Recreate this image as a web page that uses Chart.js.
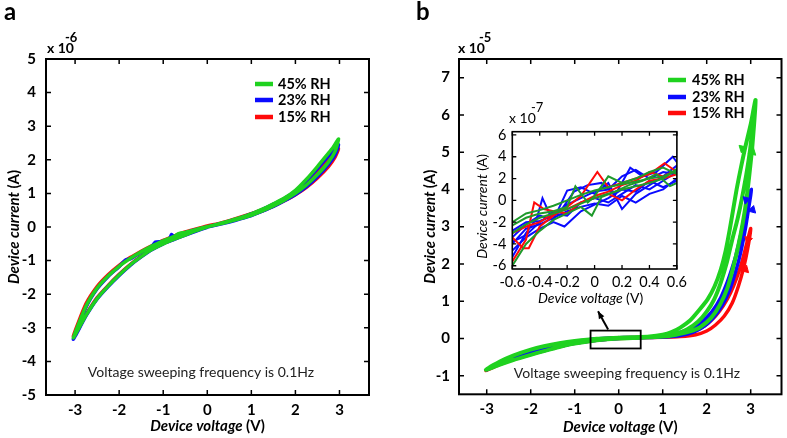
<!DOCTYPE html>
<html><head><meta charset="utf-8">
<script src="https://cdn.jsdelivr.net/npm/chart.js@4.4.1/dist/chart.umd.min.js"></script>
<style>
html,body{margin:0;padding:0;background:#fff;}
#wrap{position:relative;width:787px;height:438px;overflow:hidden;background:#fff;}
canvas{position:absolute;display:block;}
</style></head><body>
<div id="wrap">
<canvas id="ca" width="390" height="438" style="left:0;top:0"></canvas>
<canvas id="cb" width="397" height="438" style="left:390px;top:0"></canvas>
<canvas id="ci" width="230" height="210" style="left:462px;top:98px"></canvas>
</div>
<script>
// ---------- data ----------
const seriesNames = ['45% RH', '23% RH', '15% RH'];
const xTicksMain = [-3, -2, -1, 0, 1, 2, 3];
const yTicksA = [-5, -4, -3, -2, -1, 0, 1, 2, 3, 4, 5];
const yTicksB = [-1, 0, 1, 2, 3, 4, 5, 6, 7];
const xTicksInset = [-0.6, -0.4, -0.2, 0, 0.2, 0.4, 0.6];
const yTicksInset = [-6, -4, -2, 0, 2, 4, 6];

// panel a (current x1e-6 A vs voltage V)
const aGreen = [[0,0.01],[0.25,0.08],[0.5,0.16],[0.75,0.25],[1,0.35],[1.25,0.48],[1.5,0.63],[1.75,0.8],[2,1.0],[2.25,1.25],[2.5,1.56],[2.75,1.93],[2.9,2.25],[2.98,2.62],
[2.85,2.36],[2.75,2.2],[2.5,1.8],[2.25,1.42],[2,1.09],[1.75,0.86],[1.5,0.69],[1.25,0.53],[1,0.39],[0.75,0.28],[0.5,0.18],[0.25,0.09],[0,0.01],
[-0.25,-0.07],[-0.5,-0.16],[-0.65,-0.2],[-0.75,-0.28],[-0.9,-0.36],[-1,-0.41],[-1.25,-0.56],[-1.5,-0.74],[-1.75,-0.94],[-2,-1.17],[-2.25,-1.46],[-2.5,-1.82],[-2.75,-2.35],[-3.04,-3.3],
[-2.75,-2.62],[-2.5,-2.13],[-2.25,-1.76],[-2,-1.43],[-1.75,-1.13],[-1.5,-0.88],[-1.25,-0.66],[-1,-0.5],[-0.75,-0.36],[-0.5,-0.24],[-0.25,-0.11],[0,0]];
const aBlue = [[0,0.0],[0.25,0.07],[0.5,0.15],[0.75,0.24],[1,0.34],[1.25,0.47],[1.5,0.61],[1.75,0.78],[2,0.97],[2.25,1.2],[2.5,1.5],[2.75,1.86],[2.9,2.15],[2.98,2.45],
[2.85,2.25],[2.75,2.12],[2.5,1.74],[2.25,1.38],[2,1.07],[1.75,0.85],[1.5,0.68],[1.25,0.52],[1,0.39],[0.75,0.27],[0.5,0.17],[0.25,0.08],[0,0.0],
[-0.25,-0.08],[-0.5,-0.17],[-0.75,-0.3],[-0.81,-0.22],[-0.86,-0.36],[-1,-0.43],[-1.18,-0.45],[-1.25,-0.57],[-1.5,-0.75],[-1.75,-0.95],[-1.85,-0.98],[-2,-1.18],[-2.25,-1.47],[-2.5,-1.84],[-2.75,-2.38],[-3.04,-3.34],
[-2.75,-2.64],[-2.5,-2.14],[-2.25,-1.77],[-2,-1.44],[-1.75,-1.14],[-1.5,-0.89],[-1.25,-0.67],[-1,-0.5],[-0.75,-0.37],[-0.5,-0.24],[-0.25,-0.12],[0,-0.01]];
const aRed = [[0,0.02],[0.25,0.09],[0.5,0.17],[0.75,0.26],[1,0.36],[1.25,0.48],[1.5,0.62],[1.75,0.78],[2,0.96],[2.25,1.18],[2.5,1.46],[2.75,1.8],[2.9,2.08],[2.98,2.33],
[2.85,2.15],[2.75,2.03],[2.5,1.68],[2.25,1.35],[2,1.05],[1.75,0.84],[1.5,0.67],[1.25,0.52],[1,0.4],[0.75,0.29],[0.5,0.19],[0.25,0.1],[0,0.03],
[-0.25,-0.06],[-0.5,-0.15],[-0.75,-0.27],[-1,-0.4],[-1.25,-0.55],[-1.5,-0.72],[-1.75,-0.91],[-2,-1.14],[-2.25,-1.42],[-2.5,-1.77],[-2.75,-2.28],[-3.04,-3.25],
[-2.75,-2.6],[-2.5,-2.1],[-2.25,-1.74],[-2,-1.41],[-1.75,-1.12],[-1.5,-0.87],[-1.25,-0.65],[-1,-0.49],[-0.75,-0.35],[-0.5,-0.23],[-0.25,-0.1],[0,0.01]];

// panel b (current x1e-5 A vs voltage V)
const bGreen = [[0,0.02],[-0.5,-0.01],[-1,-0.07],[-1.35,-0.13],[-1.7,-0.21],[-2,-0.3],[-2.4,-0.46],[-2.7,-0.62],[-3.02,-0.84],
[-2.7,-0.7],[-2.4,-0.58],[-2,-0.44],[-1.7,-0.34],[-1.35,-0.23],[-1,-0.14],[-0.5,-0.05],[0,0],
[0.5,0.02],[1,0.05],[1.3,0.1],[1.6,0.18],[1.85,0.3],[2.1,0.55],[2.3,0.9],[2.47,1.35],[2.6,1.9],[2.72,2.5],[2.82,3.1],[2.9,3.7],[2.97,4.4],[3.04,5.2],[3.11,6.4],
[3.0,5.75],[2.88,5.15],[2.78,4.6],[2.68,4.0],[2.6,3.45],[2.52,2.9],[2.43,2.35],[2.32,1.85],[2.18,1.4],[2.02,1.05],[1.82,0.75],[1.62,0.48],[1.4,0.29],[1.2,0.17],[1.0,0.1],[0.7,0.05],[0.3,0.03],[0,0.02],
[0.5,0.03],[1,0.06],[1.3,0.12],[1.55,0.24],[1.8,0.45],[2.0,0.72],[2.17,1.05],[2.32,1.5],[2.46,2.05],[2.58,2.65],[2.7,3.2],[2.8,3.75],[2.9,4.4],[2.99,5.1],[3.11,6.4]];
const bBlue = [[0,0.02],[-0.5,-0.01],[-1,-0.08],[-1.35,-0.14],[-1.7,-0.24],[-2,-0.34],[-2.4,-0.5],[-2.7,-0.65],[-3.0,-0.84],
[-2.7,-0.68],[-2.4,-0.55],[-2,-0.42],[-1.7,-0.33],[-1.35,-0.22],[-1,-0.13],[-0.5,-0.05],[0,0],
[0.5,0.02],[1,0.04],[1.4,0.08],[1.7,0.17],[1.95,0.33],[2.15,0.55],[2.35,0.88],[2.52,1.3],[2.66,1.8],[2.78,2.35],[2.88,2.95],[2.96,3.55],[3.02,4.0],
[2.92,3.6],[2.84,3.1],[2.74,2.55],[2.62,2.05],[2.48,1.55],[2.32,1.1],[2.12,0.72],[1.88,0.44],[1.6,0.25],[1.3,0.13],[1.0,0.07],[0.6,0.03],[0,0.02],
[0.8,0.04],[1.3,0.1],[1.65,0.2],[1.9,0.38],[2.1,0.62],[2.3,0.98],[2.46,1.42],[2.6,1.95],[2.72,2.5],[2.83,3.1],[2.92,3.7],[2.98,4.0]];
const bRed = [[0,0.02],[-0.5,-0.02],[-1,-0.09],[-1.35,-0.15],[-1.7,-0.25],[-2,-0.36],[-2.4,-0.52],[-2.7,-0.66],[-3.02,-0.86],
[-2.7,-0.7],[-2.4,-0.57],[-2,-0.43],[-1.7,-0.33],[-1.35,-0.22],[-1,-0.13],[-0.5,-0.05],[0,0],
[0.5,0.02],[1,0.03],[1.4,0.05],[1.75,0.1],[2.0,0.2],[2.2,0.36],[2.4,0.6],[2.58,0.95],[2.72,1.4],[2.84,1.9],[2.93,2.4],[3.0,2.95],
[2.9,2.5],[2.8,2.05],[2.68,1.62],[2.54,1.22],[2.38,0.88],[2.2,0.6],[2.0,0.38],[1.75,0.21],[1.45,0.11],[1.1,0.05],[0.6,0.03],[0,0.02]];
// sweep-direction arrows: [V, I, rotation deg]
const bGreenArrows = [[2.81,5.1,193],[3.04,5.0,13]];
const bBlueArrows = [[2.9,3.72,195],[3.04,3.45,15]];
const bRedArrows = [[2.94,2.65,195],[2.88,1.85,15]];

// inset (current x1e-7 A, voltage -0.6..0.6 V)
const inGreen1 = [[-0.6,-2.0],[-0.5,-1.2],[-0.4,-0.9],[-0.3,-0.5],[-0.2,0.0],[-0.1,0.5],[0,0.9],[0.1,1.2],[0.2,1.5],[0.3,1.7],[0.4,2.0],[0.5,2.2],[0.6,2.7]];
const inGreen2 = [[-0.6,-2.3],[-0.5,-1.6],[-0.4,-1.2],[-0.3,-1.0],[-0.2,-0.6],[-0.14,1.3],[-0.05,-0.2],[0,0.4],[0.1,2.2],[0.2,1.6],[0.3,2.0],[0.4,2.6],[0.5,3.0],[0.6,2.4]];
const inGreen3 = [[-0.6,-6.0],[-0.5,-4.0],[-0.4,-2.8],[-0.3,-1.8],[-0.2,-1.2],[-0.1,-0.6],[-0.02,-1.4],[0.05,0.3],[0.15,0.8],[0.25,1.4],[0.35,1.8],[0.45,2.4],[0.55,1.3],[0.6,1.6]];
const inGreen4 = [[-0.6,-3.0],[-0.5,-2.2],[-0.4,-1.6],[-0.3,-1.2],[-0.2,-0.8],[-0.1,-0.3],[0,0.2],[0.1,0.6],[0.2,1.0],[0.3,1.3],[0.4,1.6],[0.5,2.0],[0.6,2.9]];
const inBlue1 = [[-0.6,-5.2],[-0.5,-3.0],[-0.42,-1.6],[-0.38,0.2],[-0.33,-1.2],[-0.25,-1.0],[-0.15,0.8],[-0.05,1.4],[0.05,1.6],[0.15,0.5],[0.26,3.0],[0.35,2.2],[0.45,2.6],[0.57,4.0],[0.6,3.5]];
const inBlue2 = [[-0.6,-4.0],[-0.5,-2.6],[-0.4,-2.2],[-0.3,-1.6],[-0.2,-1.0],[-0.1,-0.6],[0,-0.3],[0.1,-0.5],[0.2,0.4],[0.3,-0.2],[0.4,0.6],[0.5,1.0],[0.6,2.0]];
const inBlue3 = [[-0.6,-3.4],[-0.5,-2.2],[-0.4,-1.4],[-0.3,-1.8],[-0.2,0.9],[-0.1,1.2],[0,0.6],[0.1,1.6],[0.2,-0.8],[0.3,0.6],[0.4,1.4],[0.5,2.2],[0.6,3.2]];
const inBlue4 = [[-0.6,-4.6],[-0.5,-3.4],[-0.4,-2.6],[-0.3,-2.0],[-0.22,-2.4],[-0.1,-1.0],[0,-0.4],[0.1,0.2],[0.2,1.0],[0.3,0.8],[0.4,1.8],[0.5,1.2],[0.6,1.8]];
const inBlue5 = [[-0.6,-2.8],[-0.5,-2.0],[-0.4,-1.9],[-0.3,-1.4],[-0.2,-0.4],[-0.1,0.2],[0,0.8],[0.1,1.0],[0.2,2.2],[0.3,2.8],[0.4,2.0],[0.5,2.6],[0.6,2.4]];
const inBlue6 = [[-0.6,-3.8],[-0.5,-3.2],[-0.4,-2.0],[-0.3,-1.2],[-0.2,-1.4],[-0.1,-0.2],[0,0.2],[0.1,-0.2],[0.2,0.6],[0.3,1.4],[0.4,1.0],[0.5,1.8],[0.6,2.6]];
const inRed1 = [[-0.6,-3.4],[-0.52,-4.4],[-0.48,-4.4],[-0.4,-2.4],[-0.3,-1.4],[-0.2,-0.6],[-0.1,0.4],[0.02,2.6],[0.1,1.2],[0.2,1.6],[0.3,2.0],[0.4,2.4],[0.51,3.4],[0.6,2.6]];
const inRed2 = [[-0.6,-5.6],[-0.5,-3.6],[-0.44,-0.2],[-0.37,-0.8],[-0.3,-1.0],[-0.2,-1.2],[-0.1,-0.2],[0,0.4],[0.1,0.8],[0.2,1.4],[0.3,1.8],[0.4,2.6],[0.5,2.2],[0.6,2.8]];
const inRed3 = [[-0.6,-3.0],[-0.5,-2.4],[-0.4,-2.0],[-0.3,-1.2],[-0.2,-0.8],[-0.1,-0.2],[0,0.2],[0.1,0.6],[0.2,0.0],[0.3,1.0],[0.4,1.8],[0.5,2.0],[0.6,2.4]];

// ---------- styles ----------
const GREEN = '#1fd21f', BLUE = '#0a0aff', RED = '#ff0a0a', DGREEN = '#1f9a2c';
const seriesColors = [GREEN, BLUE, RED];
const FF = 'Lato, "Open Sans", "DejaVu Sans", sans-serif';
Chart.defaults.font.family = FF;
Chart.defaults.color = '#000';

const pts = arr => arr.map(p => ({x: p[0], y: p[1]}));
const lineDs = (arr, color, w, tension, order) => ({
  data: pts(arr), borderColor: color, backgroundColor: color, borderWidth: w,
  pointRadius: 0, tension: tension, fill: false, order: order
});
const arrowDs = (arr, color, order) => ({
  data: pts(arr), showLine: false, pointStyle: 'triangle', pointRadius: 4.5,
  pointRotation: arr.map(p => p[2]), backgroundColor: color, borderColor: color,
  borderWidth: 1, order: order
});

function drawMixed(ctx, parts, cx, cy, rot) {
  ctx.save();
  ctx.translate(cx, cy);
  if (rot) ctx.rotate(rot);
  let total = 0;
  parts.forEach(p => { ctx.font = p.f; total += ctx.measureText(p.t).width; });
  let x = -total / 2;
  ctx.textBaseline = 'middle'; ctx.textAlign = 'left'; ctx.fillStyle = '#000';
  parts.forEach(p => { ctx.font = p.f; ctx.fillText(p.t, x, 0); x += ctx.measureText(p.t).width; });
  ctx.restore();
}

function decoPlugin(o) {
  return {
    id: 'deco',
    afterDraw(chart) {
      const ctx = chart.ctx, a = chart.chartArea, xs = chart.scales.x, ys = chart.scales.y;
      ctx.save();
      ctx.strokeStyle = '#000';
      ctx.lineWidth = o.tickW;
      ctx.beginPath();
      o.xTicks.forEach(v => {
        const p = xs.getPixelForValue(v);
        ctx.moveTo(p, a.bottom); ctx.lineTo(p, a.bottom - o.tick);
        ctx.moveTo(p, a.top); ctx.lineTo(p, a.top + o.tick);
      });
      o.yTicks.forEach(v => {
        const p = ys.getPixelForValue(v);
        ctx.moveTo(a.left, p); ctx.lineTo(a.left + o.tick, p);
        ctx.moveTo(a.right, p); ctx.lineTo(a.right - o.tick, p);
      });
      ctx.stroke();
      ctx.lineWidth = o.frameW;
      ctx.strokeRect(a.left, a.top, a.right - a.left, a.bottom - a.top);
      drawMixed(ctx, o.xTitle, (a.left + a.right) / 2 + o.xTitleDx, o.xTitleY, 0);
      drawMixed(ctx, o.yTitle, o.yTitleX, (a.top + a.bottom) / 2 + o.yTitleDy, -Math.PI / 2);
      ctx.fillStyle = '#000'; ctx.textBaseline = 'alphabetic'; ctx.textAlign = 'left';
      ctx.font = o.expFont; ctx.fillText('x 10', o.expX, o.expY);
      ctx.font = o.expSupFont; ctx.fillText(o.expSup, o.expSupX, o.expSupY);
      if (o.extra) o.extra(chart, ctx);
      ctx.restore();
    }
  };
}

function drawLegend(ctx, x1, x2, tx, ys) {
  seriesNames.forEach((n, i) => {
    ctx.strokeStyle = seriesColors[i]; ctx.lineWidth = 4.5;
    ctx.beginPath(); ctx.moveTo(x1, ys[i]); ctx.lineTo(x2, ys[i]); ctx.stroke();
    ctx.fillStyle = '#000'; ctx.font = 'bold 14.5px ' + FF;
    ctx.textBaseline = 'middle'; ctx.textAlign = 'left';
    ctx.fillText(n, tx, ys[i]);
  });
}

function axes(xmin, xmax, ymin, ymax, xt, yt, yW, xH, font, xpad, ypad) {
  return {
    x: { type: 'linear', min: xmin, max: xmax,
      grid: { display: false, drawTicks: false }, border: { display: false },
      afterBuildTicks: s => { s.ticks = xt.map(v => ({ value: v })); },
      afterFit: s => { s.height = xH; },
      ticks: { font: font, color: '#000', padding: xpad, autoSkip: false, maxRotation: 0, callback: v => String(v) } },
    y: { type: 'linear', min: ymin, max: ymax,
      grid: { display: false, drawTicks: false }, border: { display: false },
      afterBuildTicks: s => { s.ticks = yt.map(v => ({ value: v })); },
      afterFit: s => { s.width = yW; },
      ticks: { font: font, color: '#000', padding: ypad, autoSkip: false, callback: v => String(v) } }
  };
}

const bi = 'italic bold 15px ' + FF, bn = 'bold 15px ' + FF;
const ri = 'italic 14px ' + FF, rn = '14px ' + FF;

// ---------- panel a ----------
new Chart(document.getElementById('ca'), {
  type: 'line',
  data: { datasets: [
    lineDs(aGreen, GREEN, 3.5, 0.2, 1),
    lineDs(aBlue, BLUE, 3.5, 0.2, 2),
    lineDs(aRed, RED, 3.5, 0.2, 3)
  ] },
  options: {
    responsive: false, animation: false, devicePixelRatio: 1,
    layout: { padding: { top: 59, right: 21, bottom: 0, left: 0 } },
    plugins: { legend: { display: false }, tooltip: { enabled: false } },
    scales: axes(-3.66, 3.67, -5, 5, xTicksMain, yTicksA, 46, 43, { size: 15, weight: 'bold' }, 6, 10)
  },
  plugins: [decoPlugin({
    xTicks: xTicksMain, yTicks: yTicksA, tick: 5, tickW: 1.5, frameW: 2,
    xTitle: [{ t: 'Device voltage ', f: bi }, { t: '(V)', f: bn }], xTitleY: 426, xTitleDx: 0,
    yTitle: [{ t: 'Device current ', f: bi }, { t: '(A)', f: bn }], yTitleX: 14, yTitleDy: 0,
    expFont: 'bold 14px ' + FF, expX: 47, expY: 53, expSupFont: 'bold 13px ' + FF, expSup: '-6', expSupX: 65, expSupY: 42,
    extra: (chart, ctx) => {
      ctx.fillStyle = '#000'; ctx.font = 'bold 24px ' + FF; ctx.textBaseline = 'alphabetic';
      ctx.fillText('a', 4, 20);
      drawLegend(ctx, 255, 273, 278, [84, 100, 117]);
      ctx.font = rn; ctx.fillStyle = '#222'; ctx.textAlign = 'center'; ctx.textBaseline = 'middle';
      ctx.fillText('Voltage sweeping frequency is 0.1Hz', 201, 372);
    }
  })]
});

// ---------- panel b ----------
new Chart(document.getElementById('cb'), {
  type: 'line',
  data: { datasets: [
    arrowDs(bGreenArrows, GREEN, 0),
    arrowDs(bBlueArrows, BLUE, 0),
    arrowDs(bRedArrows, RED, 0),
    lineDs(bGreen, GREEN, 4, 0.2, 1),
    lineDs(bBlue, BLUE, 3.5, 0.2, 2),
    lineDs(bRed, RED, 3.5, 0.2, 3)
  ] },
  options: {
    responsive: false, animation: false, devicePixelRatio: 1,
    layout: { padding: { top: 59, right: 5.3, bottom: 0, left: 0 } },
    plugins: { legend: { display: false }, tooltip: { enabled: false } },
    scales: axes(-3.63, 3.7, -1.5, 7.5, xTicksMain, yTicksB, 69, 43.7, { size: 15, weight: 'bold' }, 6, 9)
  },
  plugins: [decoPlugin({
    xTicks: xTicksMain, yTicks: yTicksB, tick: 5, tickW: 1.5, frameW: 2,
    xTitle: [{ t: 'Device voltage ', f: bi }, { t: '(V)', f: bn }], xTitleY: 427, xTitleDx: 0,
    yTitle: [{ t: 'Device current ', f: bi }, { t: '(A)', f: bn }], yTitleX: 40, yTitleDy: 0,
    expFont: 'bold 14px ' + FF, expX: 68, expY: 53, expSupFont: 'bold 13px ' + FF, expSup: '-5', expSupX: 89, expSupY: 42,
    extra: (chart, ctx) => {
      const xs = chart.scales.x, ys = chart.scales.y;
      ctx.fillStyle = '#000'; ctx.font = 'bold 24px ' + FF; ctx.textBaseline = 'alphabetic'; ctx.textAlign = 'left';
      ctx.fillText('b', 26, 20);
      drawLegend(ctx, 278, 296, 302, [80, 97, 113]);
      ctx.font = rn; ctx.fillStyle = '#222'; ctx.textAlign = 'center'; ctx.textBaseline = 'middle';
      ctx.fillText('Voltage sweeping frequency is 0.1Hz', 237, 373);
      const x0 = xs.getPixelForValue(-0.64), x1 = xs.getPixelForValue(0.5);
      const y0 = ys.getPixelForValue(0.21), y1 = ys.getPixelForValue(-0.27);
      ctx.strokeStyle = '#000'; ctx.lineWidth = 1.8;
      ctx.strokeRect(x0, y0, x1 - x0, y1 - y0);
      const ax = xs.getPixelForValue(-0.24), ay = ys.getPixelForValue(0.24);
      const bx = xs.getPixelForValue(-0.47), by = ys.getPixelForValue(0.73);
      ctx.lineWidth = 2; ctx.beginPath(); ctx.moveTo(ax, ay); ctx.lineTo(bx, by); ctx.stroke();
      const ang = Math.atan2(by - ay, bx - ax);
      ctx.fillStyle = '#000'; ctx.beginPath();
      ctx.moveTo(bx, by);
      ctx.lineTo(bx - 8 * Math.cos(ang - 0.4), by - 8 * Math.sin(ang - 0.4));
      ctx.lineTo(bx - 8 * Math.cos(ang + 0.4), by - 8 * Math.sin(ang + 0.4));
      ctx.closePath(); ctx.fill();
    }
  })]
});

// ---------- inset ----------
new Chart(document.getElementById('ci'), {
  type: 'line',
  data: { datasets: [
    lineDs(inGreen1, DGREEN, 2, 0, 1), lineDs(inGreen2, DGREEN, 2, 0, 1),
    lineDs(inGreen3, DGREEN, 2, 0, 1), lineDs(inGreen4, DGREEN, 2, 0, 1),
    lineDs(inRed1, RED, 2, 0, 2), lineDs(inRed2, RED, 2, 0, 2), lineDs(inRed3, RED, 2, 0, 2),
    lineDs(inBlue1, BLUE, 2, 0, 3), lineDs(inBlue2, BLUE, 2, 0, 3), lineDs(inBlue3, BLUE, 2, 0, 3),
    lineDs(inBlue4, BLUE, 2, 0, 3), lineDs(inBlue5, BLUE, 2, 0, 3), lineDs(inBlue6, BLUE, 2, 0, 3)
  ] },
  options: {
    responsive: false, animation: false, devicePixelRatio: 1,
    layout: { padding: { top: 33.7, right: 6.3, bottom: 0, left: 0 } },
    plugins: { legend: { display: false }, tooltip: { enabled: false } },
    scales: axes(-0.6, 0.6, -6.3, 6.3, xTicksInset, yTicksInset, 50.3, 39, { size: 14.5 }, 5, 6)
  },
  plugins: [decoPlugin({
    xTicks: xTicksInset, yTicks: yTicksInset, tick: 4, tickW: 1.3, frameW: 1.6,
    xTitle: [{ t: 'Device voltage ', f: ri }, { t: '(V)', f: rn }], xTitleY: 200, xTitleDx: -4,
    yTitle: [{ t: 'Device current ', f: ri }, { t: '(A)', f: rn }], yTitleX: 20, yTitleDy: 6,
    expFont: '14px ' + FF, expX: 47, expY: 25, expSupFont: '13px ' + FF, expSup: '-7', expSupX: 69, expSupY: 14
  })]
});
</script>
</body></html>
